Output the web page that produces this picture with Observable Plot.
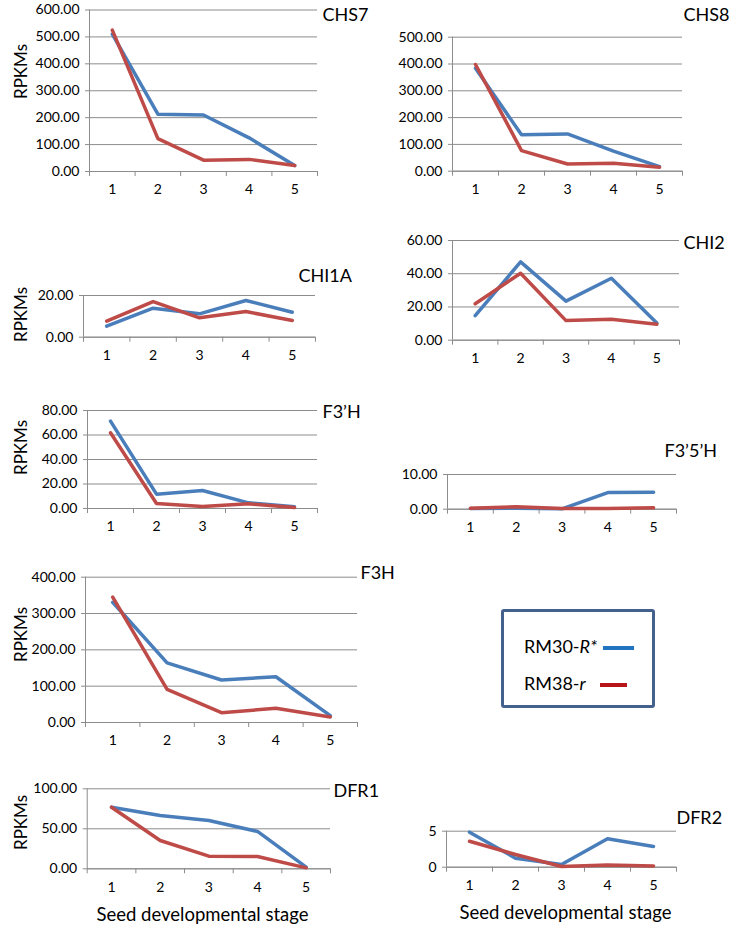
<!DOCTYPE html>
<html>
<head>
<meta charset="utf-8">
<script src="https://cdn.jsdelivr.net/npm/d3@7"></script>
<script src="https://cdn.jsdelivr.net/npm/@observablehq/plot@0.6"></script>
<style>
  html, body { margin: 0; padding: 0; background: #fff; }
  #page { position: relative; width: 731px; height: 928px; overflow: hidden; font-family: Lato, "Open Sans", sans-serif; }
  #page svg { position: absolute; left: 0; top: 0; }
  #legend { position: absolute; left: 501px; top: 609px; width: 148px; height: 93px; border: 3px solid #44618e; border-radius: 3px; background: #fff; font-size: 18px; color: #000; }
  .lg-row { position: absolute; left: 20px; white-space: nowrap; line-height: 20px; }
  .lg-line { display: inline-block; height: 4px; vertical-align: middle; margin-left: 6px; }
</style>
</head>
<body>
<div id="page"></div>
<script>
// ---- data ----
const stages = [1, 2, 3, 4, 5];
const seriesNames = ["RM30-R*", "RM38-r"];

const chs7_R = [510, 213, 210, 125, 22];
const chs7_r = [525, 122, 42, 45, 22];
const chs8_R = [384, 136, 139, 75, 17];
const chs8_r = [398, 77, 27, 30, 15];
const chi1a_R = [5.3, 13.9, 11.2, 17.6, 12.0];
const chi1a_r = [7.7, 17.1, 9.3, 12.3, 8.0];
const chi2_R = [14.8, 47.1, 23.5, 37.3, 10.4];
const chi2_r = [21.9, 40.3, 11.8, 12.6, 9.6];
const f3ph_R = [71.3, 11.7, 14.7, 4.6, 1.4];
const f3ph_r = [61.8, 4.1, 1.6, 3.8, 0.8];
const f35h_R = [0.2, 0.3, 0.1, 4.8, 4.9];
const f35h_r = [0.3, 0.7, 0.2, 0.2, 0.4];
const f3h_R = [331, 164, 117, 126, 19];
const f3h_r = [345, 91, 27, 39, 15];
const dfr1_R = [77, 66.7, 60.4, 46.7, 2];
const dfr1_r = [77, 35.4, 15.8, 15.4, 1.2];
const dfr2_R = [4.86, 1.25, 0.37, 3.94, 2.87];
const dfr2_r = [3.6, 1.76, 0.1, 0.32, 0.18];

const yTicks_chs7 = [0, 100, 200, 300, 400, 500, 600];
const yTicks_chs8 = [0, 100, 200, 300, 400, 500];
const yTicks_chi1a = [0, 20];
const yTicks_chi2 = [0, 20, 40, 60];
const yTicks_f3ph = [0, 20, 40, 60, 80];
const yTicks_f35h = [0, 10];
const yTicks_f3h = [0, 100, 200, 300, 400];
const yTicks_dfr1 = [0, 50, 100];
const yTicks_dfr2 = [0, 5];

const titles = ["CHS7", "CHS8", "CHI1A", "CHI2", "F3\u2019H", "F3\u20195\u2019H", "F3H", "DFR1", "DFR2"];
const yLabel = "RPKMs";
const xLabel = "Seed developmental stage";

// ---- layout (pixel geometry of each panel) ----
const W = 731, H = 928;
const fmt2 = d3.format(".2f"), fmt0 = d3.format("d");
const panels = [
  {title: titles[0], R: chs7_R, r: chs7_r, ticks: yTicks_chs7, fmt: fmt2, left: 89, right: 317, top: 9.5, bottom: 171, tx: 322, ty: 14.5, yl: 71},
  {title: titles[1], R: chs8_R, r: chs8_r, ticks: yTicks_chs8, fmt: fmt2, left: 452, right: 682, top: 36.7, bottom: 170.7, tx: 683, ty: 14.5},
  {title: titles[2], R: chi1a_R, r: chi1a_r, ticks: yTicks_chi1a, fmt: fmt2, left: 83, right: 315, top: 295, bottom: 336.7, tx: 298, ty: 276, yl: 314},
  {title: titles[3], R: chi2_R, r: chi2_r, ticks: yTicks_chi2, fmt: fmt2, left: 452, right: 679, top: 240, bottom: 339.7, tx: 683, ty: 243},
  {title: titles[4], R: f3ph_R, r: f3ph_r, ticks: yTicks_f3ph, fmt: fmt2, left: 87, right: 317, top: 410, bottom: 508, tx: 322, ty: 412, yl: 447},
  {title: titles[5], R: f35h_R, r: f35h_r, ticks: yTicks_f35h, fmt: fmt2, left: 447, right: 676, top: 474, bottom: 508.7, tx: 664, ty: 451},
  {title: titles[6], R: f3h_R, r: f3h_r, ticks: yTicks_f3h, fmt: fmt2, left: 85, right: 357, top: 576.7, bottom: 722, tx: 360, ty: 573, yl: 634},
  {title: titles[7], R: dfr1_R, r: dfr1_r, ticks: yTicks_dfr1, fmt: fmt2, left: 86.7, right: 330, top: 788.3, bottom: 868.3, tx: 333, ty: 791, yl: 822, xl: 202, xly: 915},
  {title: titles[8], R: dfr2_R, r: dfr2_r, ticks: yTicks_dfr2, fmt: fmt0, left: 446, right: 676, top: 830.7, bottom: 866.7, tx: 676, ty: 817.5, xl: 565, xly: 913}
];

const blue = "#4a7ebb", red = "#be4b48";
const gridColor = "#8c8c8c", axisColor = "#8c8c8c";
const bounds = stages.map(s => s - 0.5).concat([stages[stages.length - 1] + 0.5]);

const page = document.getElementById("page");

for (const p of panels) {
  const dR = stages.map((s, i) => ({stage: s, value: p.R[i], series: seriesNames[0]}));
  const dr = stages.map((s, i) => ({stage: s, value: p.r[i], series: seriesNames[1]}));
  const marks = [
    Plot.gridY(p.ticks, {stroke: gridColor, strokeOpacity: 1, strokeWidth: 1}),
    Plot.ruleX([bounds[0]], {stroke: axisColor}),
    Plot.ruleY([0], {stroke: axisColor}),
    Plot.axisY(p.ticks, {tickSize: 4, tickPadding: 6, tickFormat: p.fmt, stroke: axisColor, fill: "#000", fontSize: 14, label: null}),
    Plot.axisX(bounds, {tickSize: 5, tickFormat: () => "", stroke: axisColor, label: null}),
    Plot.axisX(stages, {tickSize: 0, tickPadding: 13, tickFormat: d => String(d), fill: "#000", fontSize: 14, label: null}),
    Plot.line(dR, {x: "stage", y: "value", stroke: blue, strokeWidth: 3.5, strokeLinejoin: "round"}),
    Plot.line(dr, {x: "stage", y: "value", stroke: red, strokeWidth: 3.5, strokeLinejoin: "round"}),
    Plot.text([p.title], {frameAnchor: "top-right", dx: p.tx - p.right, dy: p.ty - p.top, textAnchor: "start", lineAnchor: "middle", fontSize: 18, fill: "#000"})
  ];
  if (p.yl !== undefined) {
    marks.push(Plot.text([yLabel], {frameAnchor: "top-left", dx: 21 - p.left, dy: p.yl - p.top, rotate: -90, textAnchor: "middle", lineAnchor: "middle", fontSize: 17, fill: "#000"}));
  }
  if (p.xl !== undefined) {
    marks.push(Plot.text([xLabel], {frameAnchor: "bottom-left", dx: p.xl - p.left, dy: p.xly - p.bottom, textAnchor: "middle", lineAnchor: "middle", fontSize: 18.5, fill: "#000"}));
  }
  const svg = Plot.plot({
    width: W, height: H,
    marginLeft: p.left, marginRight: W - p.right, marginTop: p.top, marginBottom: H - p.bottom,
    x: {type: "linear", domain: [bounds[0], bounds[bounds.length - 1]], label: null},
    y: {type: "linear", domain: [0, p.ticks[p.ticks.length - 1]], label: null},
    style: {background: "transparent", overflow: "visible", fontFamily: "Lato, 'Open Sans', sans-serif"},
    marks
  });
  page.appendChild(svg);
}

// ---- legend ----
const legend = document.createElement("div");
legend.id = "legend";
legend.innerHTML =
  `<div class="lg-row" style="top:24px">RM30-<i>R*</i><span class="lg-line" style="width:31px;background:#2274c0;margin-left:6px"></span></div>` +
  `<div class="lg-row" style="top:61px">RM38-<i>r</i><span class="lg-line" style="width:27px;background:#b8151b;margin-left:14px"></span></div>`;
page.appendChild(legend);
</script>
</body>
</html>
